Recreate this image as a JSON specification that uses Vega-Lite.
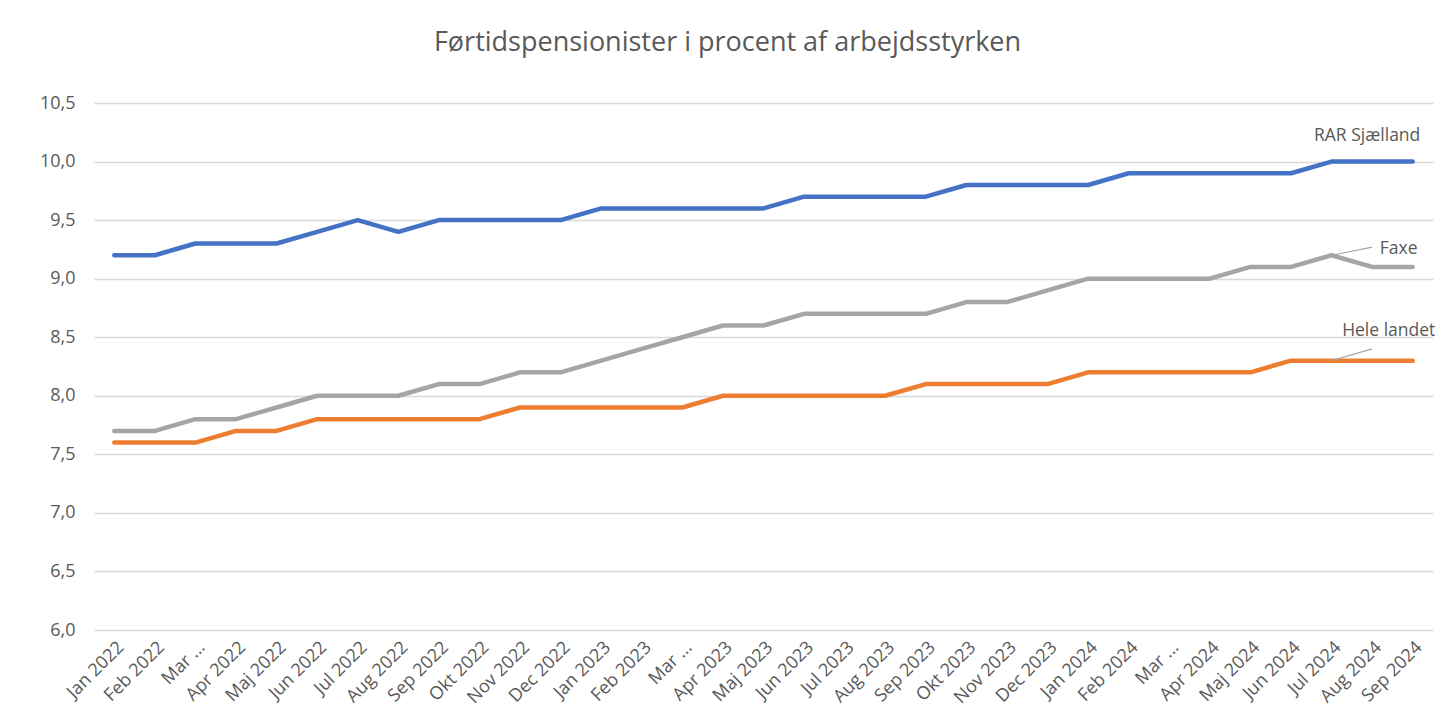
{
  "$schema": "https://vega.github.io/schema/vega-lite/v6.json",
  "width": 1339,
  "height": 527,
  "autosize": {"type": "none"},
  "padding": {"left": 94, "top": 103, "right": 14, "bottom": 90},
  "background": "white",
  "config": {"font": "Open Sans", "view": {"stroke": null}},
  "title": {
    "text": "Førtidspensionister i procent af arbejdsstyrken",
    "fontSize": 27,
    "fontWeight": "normal",
    "color": "#595959",
    "anchor": "middle",
    "frame": "group",
    "dx": -36,
    "offset": 37
  },
  "datasets": {
    "series": [
      {"month": "Jan 2022", "series": "RAR Sjælland", "value": 9.2},
      {"month": "Feb 2022", "series": "RAR Sjælland", "value": 9.2},
      {"month": "Mar 2022", "series": "RAR Sjælland", "value": 9.3},
      {"month": "Apr 2022", "series": "RAR Sjælland", "value": 9.3},
      {"month": "Maj 2022", "series": "RAR Sjælland", "value": 9.3},
      {"month": "Jun 2022", "series": "RAR Sjælland", "value": 9.4},
      {"month": "Jul 2022", "series": "RAR Sjælland", "value": 9.5},
      {"month": "Aug 2022", "series": "RAR Sjælland", "value": 9.4},
      {"month": "Sep 2022", "series": "RAR Sjælland", "value": 9.5},
      {"month": "Okt 2022", "series": "RAR Sjælland", "value": 9.5},
      {"month": "Nov 2022", "series": "RAR Sjælland", "value": 9.5},
      {"month": "Dec 2022", "series": "RAR Sjælland", "value": 9.5},
      {"month": "Jan 2023", "series": "RAR Sjælland", "value": 9.6},
      {"month": "Feb 2023", "series": "RAR Sjælland", "value": 9.6},
      {"month": "Mar 2023", "series": "RAR Sjælland", "value": 9.6},
      {"month": "Apr 2023", "series": "RAR Sjælland", "value": 9.6},
      {"month": "Maj 2023", "series": "RAR Sjælland", "value": 9.6},
      {"month": "Jun 2023", "series": "RAR Sjælland", "value": 9.7},
      {"month": "Jul 2023", "series": "RAR Sjælland", "value": 9.7},
      {"month": "Aug 2023", "series": "RAR Sjælland", "value": 9.7},
      {"month": "Sep 2023", "series": "RAR Sjælland", "value": 9.7},
      {"month": "Okt 2023", "series": "RAR Sjælland", "value": 9.8},
      {"month": "Nov 2023", "series": "RAR Sjælland", "value": 9.8},
      {"month": "Dec 2023", "series": "RAR Sjælland", "value": 9.8},
      {"month": "Jan 2024", "series": "RAR Sjælland", "value": 9.8},
      {"month": "Feb 2024", "series": "RAR Sjælland", "value": 9.9},
      {"month": "Mar 2024", "series": "RAR Sjælland", "value": 9.9},
      {"month": "Apr 2024", "series": "RAR Sjælland", "value": 9.9},
      {"month": "Maj 2024", "series": "RAR Sjælland", "value": 9.9},
      {"month": "Jun 2024", "series": "RAR Sjælland", "value": 9.9},
      {"month": "Jul 2024", "series": "RAR Sjælland", "value": 10.0},
      {"month": "Aug 2024", "series": "RAR Sjælland", "value": 10.0},
      {"month": "Sep 2024", "series": "RAR Sjælland", "value": 10.0},
      {"month": "Jan 2022", "series": "Faxe", "value": 7.7},
      {"month": "Feb 2022", "series": "Faxe", "value": 7.7},
      {"month": "Mar 2022", "series": "Faxe", "value": 7.8},
      {"month": "Apr 2022", "series": "Faxe", "value": 7.8},
      {"month": "Maj 2022", "series": "Faxe", "value": 7.9},
      {"month": "Jun 2022", "series": "Faxe", "value": 8.0},
      {"month": "Jul 2022", "series": "Faxe", "value": 8.0},
      {"month": "Aug 2022", "series": "Faxe", "value": 8.0},
      {"month": "Sep 2022", "series": "Faxe", "value": 8.1},
      {"month": "Okt 2022", "series": "Faxe", "value": 8.1},
      {"month": "Nov 2022", "series": "Faxe", "value": 8.2},
      {"month": "Dec 2022", "series": "Faxe", "value": 8.2},
      {"month": "Jan 2023", "series": "Faxe", "value": 8.3},
      {"month": "Feb 2023", "series": "Faxe", "value": 8.4},
      {"month": "Mar 2023", "series": "Faxe", "value": 8.5},
      {"month": "Apr 2023", "series": "Faxe", "value": 8.6},
      {"month": "Maj 2023", "series": "Faxe", "value": 8.6},
      {"month": "Jun 2023", "series": "Faxe", "value": 8.7},
      {"month": "Jul 2023", "series": "Faxe", "value": 8.7},
      {"month": "Aug 2023", "series": "Faxe", "value": 8.7},
      {"month": "Sep 2023", "series": "Faxe", "value": 8.7},
      {"month": "Okt 2023", "series": "Faxe", "value": 8.8},
      {"month": "Nov 2023", "series": "Faxe", "value": 8.8},
      {"month": "Dec 2023", "series": "Faxe", "value": 8.9},
      {"month": "Jan 2024", "series": "Faxe", "value": 9.0},
      {"month": "Feb 2024", "series": "Faxe", "value": 9.0},
      {"month": "Mar 2024", "series": "Faxe", "value": 9.0},
      {"month": "Apr 2024", "series": "Faxe", "value": 9.0},
      {"month": "Maj 2024", "series": "Faxe", "value": 9.1},
      {"month": "Jun 2024", "series": "Faxe", "value": 9.1},
      {"month": "Jul 2024", "series": "Faxe", "value": 9.2},
      {"month": "Aug 2024", "series": "Faxe", "value": 9.1},
      {"month": "Sep 2024", "series": "Faxe", "value": 9.1},
      {"month": "Jan 2022", "series": "Hele landet", "value": 7.6},
      {"month": "Feb 2022", "series": "Hele landet", "value": 7.6},
      {"month": "Mar 2022", "series": "Hele landet", "value": 7.6},
      {"month": "Apr 2022", "series": "Hele landet", "value": 7.7},
      {"month": "Maj 2022", "series": "Hele landet", "value": 7.7},
      {"month": "Jun 2022", "series": "Hele landet", "value": 7.8},
      {"month": "Jul 2022", "series": "Hele landet", "value": 7.8},
      {"month": "Aug 2022", "series": "Hele landet", "value": 7.8},
      {"month": "Sep 2022", "series": "Hele landet", "value": 7.8},
      {"month": "Okt 2022", "series": "Hele landet", "value": 7.8},
      {"month": "Nov 2022", "series": "Hele landet", "value": 7.9},
      {"month": "Dec 2022", "series": "Hele landet", "value": 7.9},
      {"month": "Jan 2023", "series": "Hele landet", "value": 7.9},
      {"month": "Feb 2023", "series": "Hele landet", "value": 7.9},
      {"month": "Mar 2023", "series": "Hele landet", "value": 7.9},
      {"month": "Apr 2023", "series": "Hele landet", "value": 8.0},
      {"month": "Maj 2023", "series": "Hele landet", "value": 8.0},
      {"month": "Jun 2023", "series": "Hele landet", "value": 8.0},
      {"month": "Jul 2023", "series": "Hele landet", "value": 8.0},
      {"month": "Aug 2023", "series": "Hele landet", "value": 8.0},
      {"month": "Sep 2023", "series": "Hele landet", "value": 8.1},
      {"month": "Okt 2023", "series": "Hele landet", "value": 8.1},
      {"month": "Nov 2023", "series": "Hele landet", "value": 8.1},
      {"month": "Dec 2023", "series": "Hele landet", "value": 8.1},
      {"month": "Jan 2024", "series": "Hele landet", "value": 8.2},
      {"month": "Feb 2024", "series": "Hele landet", "value": 8.2},
      {"month": "Mar 2024", "series": "Hele landet", "value": 8.2},
      {"month": "Apr 2024", "series": "Hele landet", "value": 8.2},
      {"month": "Maj 2024", "series": "Hele landet", "value": 8.2},
      {"month": "Jun 2024", "series": "Hele landet", "value": 8.3},
      {"month": "Jul 2024", "series": "Hele landet", "value": 8.3},
      {"month": "Aug 2024", "series": "Hele landet", "value": 8.3},
      {"month": "Sep 2024", "series": "Hele landet", "value": 8.3}
    ],
    "labels": [
      {"series": "RAR Sjælland", "month": "Aug 2024", "value": 10.22},
      {"series": "Faxe", "month": "Sep 2024", "value": 9.25},
      {"series": "Hele landet", "month": "Sep 2024", "value": 8.55}
    ],
    "leaders": [
      {"series": "Faxe", "month": "Jul 2024", "value": 9.2, "month2": "Aug 2024", "value2": 9.27},
      {"series": "Hele landet", "month": "Jul 2024", "value": 8.3, "month2": "Aug 2024", "value2": 8.4}
    ]
  },
  "layer": [
    {
      "data": {"name": "series"},
      "mark": {"type": "line", "strokeWidth": 4.5, "strokeCap": "round", "strokeJoin": "round"},
      "encoding": {
        "x": {
          "field": "month",
          "type": "ordinal",
          "sort": null,
          "scale": {"type": "point", "padding": 0.5},
          "axis": {
            "title": null,
            "labelAngle": -45,
            "labelExpr": "substring(datum.value, 0, 3) == 'Mar' ? 'Mar ...' : datum.value",
            "labelFontSize": 18,
            "labelColor": "#595959",
            "labelPadding": 8,
            "labelOverlap": false,
            "domain": false,
            "ticks": false,
            "grid": false
          }
        },
        "y": {
          "field": "value",
          "type": "quantitative",
          "scale": {"domain": [6, 10.5], "nice": false, "zero": false},
          "axis": {
            "title": null,
            "values": [6, 6.5, 7, 7.5, 8, 8.5, 9, 9.5, 10, 10.5],
            "labelExpr": "replace(format(datum.value, '.1f'), '.', ',')",
            "labelFontSize": 18,
            "labelColor": "#595959",
            "labelPadding": 19,
            "domain": false,
            "ticks": false,
            "grid": true,
            "gridColor": "#d9d9d9",
            "gridWidth": 1.5
          }
        },
        "color": {
          "field": "series",
          "type": "nominal",
          "scale": {"domain": ["RAR Sjælland", "Faxe", "Hele landet"], "range": ["#4472C4", "#A5A5A5", "#ED7D31"]},
          "legend": null
        }
      }
    },
    {
      "data": {"name": "leaders"},
      "mark": {"type": "rule", "color": "#A6A6A6", "strokeWidth": 1.2},
      "encoding": {
        "x": {"field": "month", "type": "ordinal", "sort": null, "scale": {"type": "point", "padding": 0.5}},
        "x2": {"field": "month2"},
        "y": {"field": "value", "type": "quantitative"},
        "y2": {"field": "value2"}
      }
    },
    {
      "data": {"name": "labels"},
      "transform": [{"filter": "datum.series == 'RAR Sjælland'"}],
      "mark": {"type": "text", "fontSize": 17.5, "color": "#595959", "align": "center", "baseline": "middle", "dx": -5},
      "encoding": {
        "x": {"field": "month", "type": "ordinal", "sort": null, "scale": {"type": "point", "padding": 0.5}},
        "y": {"field": "value", "type": "quantitative"},
        "text": {"field": "series"}
      }
    },
    {
      "data": {"name": "labels"},
      "transform": [{"filter": "datum.series == 'Faxe'"}],
      "mark": {"type": "text", "fontSize": 17.5, "color": "#595959", "align": "center", "baseline": "middle", "dx": -14},
      "encoding": {
        "x": {"field": "month", "type": "ordinal", "sort": null, "scale": {"type": "point", "padding": 0.5}},
        "y": {"field": "value", "type": "quantitative"},
        "text": {"field": "series"}
      }
    },
    {
      "data": {"name": "labels"},
      "transform": [{"filter": "datum.series == 'Hele landet'"}],
      "mark": {"type": "text", "fontSize": 17.5, "color": "#595959", "align": "center", "baseline": "middle", "dx": -24},
      "encoding": {
        "x": {"field": "month", "type": "ordinal", "sort": null, "scale": {"type": "point", "padding": 0.5}},
        "y": {"field": "value", "type": "quantitative"},
        "text": {"field": "series"}
      }
    }
  ]
}
